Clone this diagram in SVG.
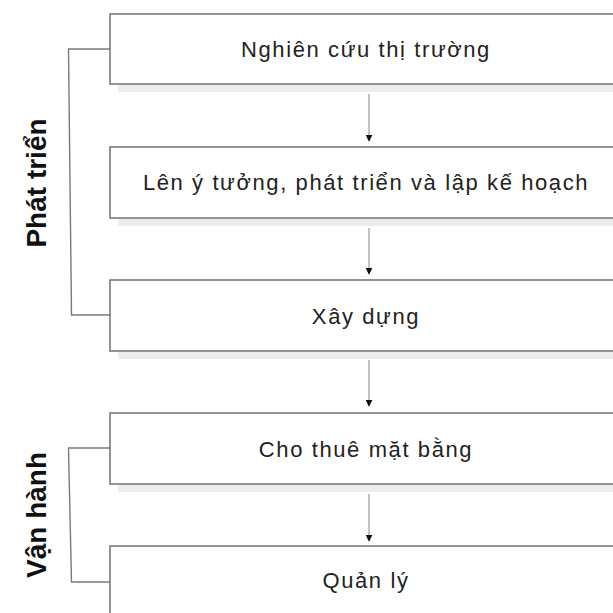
<svg xmlns="http://www.w3.org/2000/svg" width="613" height="613" viewBox="0 0 613 613">
<defs>
<style>
.box{fill:#ffffff;stroke:#7a7a7a;stroke-width:1.6}
.shadow{fill:#e9edf0}
.t{font-family:"Liberation Sans","Helvetica",Arial,sans-serif;font-size:22px;fill:#222;text-anchor:middle;letter-spacing:1.6px}
.side{font-family:"Liberation Sans",Arial,sans-serif;font-size:28px;font-weight:bold;fill:#111;text-anchor:middle}
.br{fill:none;stroke:#7a7a7a;stroke-width:1.4}
.ar{stroke:#999;stroke-width:1.2;fill:none;marker-end:url(#ah)}
</style>
<marker id="ah" viewBox="0 0 10 10" refX="9" refY="5" markerWidth="7" markerHeight="7" markerUnits="userSpaceOnUse" orient="auto">
<path d="M0,0 L10,5 L0,10 Z" fill="#111"/>
</marker>
</defs>
<rect width="613" height="613" fill="#ffffff"/>
<g id="brackets">
<path class="br" d="M110,49 H68.5 L71.5,315 H110"/>
<path class="br" d="M110,448 H68.5 L71.5,582 H110"/>
</g>
<g id="label-phat-trien"><text class="side" transform="translate(46,183) rotate(-90)">Phát triển</text></g>
<g id="label-van-hanh"><text class="side" transform="translate(46,515) rotate(-90)">Vận hành</text></g>
<g id="n1">
<rect class="shadow" x="118" y="85" width="500" height="7"/>
<rect class="box" x="110" y="14" width="520" height="70"/>
<text class="t" x="366" y="57">Nghiên cứu thị trường</text>
</g>
<g id="n2">
<rect class="shadow" x="118" y="219" width="500" height="7"/>
<rect class="box" x="110" y="147" width="520" height="71"/>
<text class="t" x="366" y="190">Lên ý tưởng, phát triển và lập kế hoạch</text>
</g>
<g id="n3">
<rect class="shadow" x="118" y="352" width="500" height="7"/>
<rect class="box" x="110" y="280" width="520" height="71"/>
<text class="t" x="366" y="324">Xây dựng</text>
</g>
<g id="n4">
<rect class="shadow" x="118" y="485" width="500" height="7"/>
<rect class="box" x="110" y="413" width="520" height="71"/>
<text class="t" x="366" y="457">Cho thuê mặt bằng</text>
</g>
<g id="n5">
<rect class="box" x="110" y="546" width="520" height="80"/>
<text class="t" x="366" y="588">Quản lý</text>
</g>
<g id="connectors">
<line class="ar" x1="369" y1="94" x2="369" y2="141"/>
<line class="ar" x1="369" y1="228" x2="369" y2="274"/>
<line class="ar" x1="369" y1="360" x2="369" y2="406"/>
<line class="ar" x1="369" y1="494" x2="369" y2="541"/>
</g>
</svg>
